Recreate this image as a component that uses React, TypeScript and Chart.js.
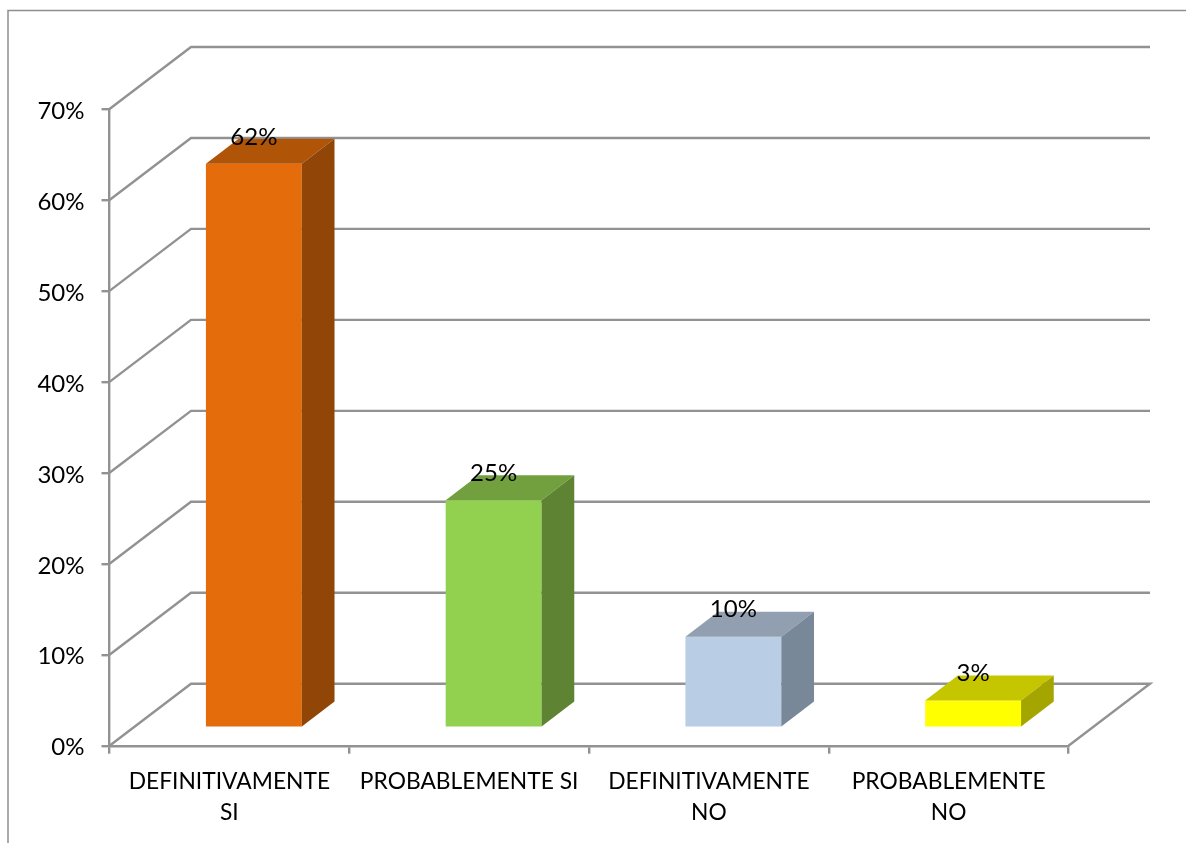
import React, { useEffect, useRef } from "react";
import { Chart, registerables } from "chart.js";

Chart.register(...registerables);

const categories = [
  ["DEFINITIVAMENTE", "SI"],
  ["PROBABLEMENTE SI"],
  ["DEFINITIVAMENTE", "NO"],
  ["PROBABLEMENTE", "NO"],
];
const values = [62, 25, 10, 3];
const frontColors = ["#E46C0A", "#92D050", "#B9CDE5", "#FFFF00"];
const topColors = ["#B05408", "#72A03F", "#929FB1", "#C6C600"];
const sideColors = ["#914506", "#5E8433", "#788898", "#A5A500"];

const FONT = "Lato, Carlito, sans-serif";
const TEXT = "#000000";
const LINE = "#929292";

const WALL_DX = 81.5;
const WALL_DY = -62;
const BAR_SHIFT_X = 24.5;
const BAR_SHIFT_Y = -18;
const BAR_DX = 32.7;
const BAR_DY = -25;

const threeD = {
  id: "threeD",
  beforeDraw(chart: any) {
    const { ctx, width, height } = chart;
    ctx.save();
    ctx.strokeStyle = "#8E8E8E";
    ctx.lineWidth = 1.5;
    ctx.beginPath();
    ctx.moveTo(8, height);
    ctx.lineTo(8, 10.5);
    ctx.lineTo(width, 10.5);
    ctx.stroke();
    ctx.restore();
  },
  beforeDatasetsDraw(chart: any) {
    const { ctx, chartArea, scales } = chart;
    const { left, right } = chartArea;
    ctx.save();
    ctx.strokeStyle = LINE;
    ctx.lineWidth = 2.4;
    ctx.lineJoin = "miter";
    for (const tick of scales.y.ticks) {
      const y = scales.y.getPixelForValue(tick.value);
      ctx.beginPath();
      ctx.moveTo(left, y);
      ctx.lineTo(left + WALL_DX, y + WALL_DY);
      ctx.lineTo(right + WALL_DX, y + WALL_DY);
      if (tick.value === 0) ctx.lineTo(right, y);
      ctx.stroke();
    }
    ctx.restore();
  },
  beforeDatasetDraw(chart: any) {
    chart.ctx.save();
    chart.ctx.translate(BAR_SHIFT_X, BAR_SHIFT_Y);
  },
  afterDatasetDraw(chart: any, args: any) {
    const { ctx } = chart;
    const bars = args.meta.data;
    bars.forEach((bar: any, i: number) => {
      const x0 = bar.x - bar.width / 2;
      const x1 = bar.x + bar.width / 2;
      const yTop = bar.y;
      const yBase = bar.base;
      ctx.fillStyle = topColors[i];
      ctx.beginPath();
      ctx.moveTo(x0, yTop);
      ctx.lineTo(x0 + BAR_DX, yTop + BAR_DY);
      ctx.lineTo(x1 + BAR_DX, yTop + BAR_DY);
      ctx.lineTo(x1, yTop);
      ctx.closePath();
      ctx.fill();
      ctx.fillStyle = sideColors[i];
      ctx.beginPath();
      ctx.moveTo(x1, yTop);
      ctx.lineTo(x1 + BAR_DX, yTop + BAR_DY);
      ctx.lineTo(x1 + BAR_DX, yBase + BAR_DY);
      ctx.lineTo(x1, yBase);
      ctx.closePath();
      ctx.fill();
      ctx.fillStyle = TEXT;
      ctx.font = `24px ${FONT}`;
      ctx.textAlign = "center";
      ctx.textBaseline = "middle";
      ctx.fillText(`${values[i]}%`, bar.x, yTop - 27);
    });
    ctx.restore();
  },
};

export default function App() {
  const ref = useRef<HTMLCanvasElement>(null);
  useEffect(() => {
    const chart = new Chart(ref.current!, {
      type: "bar",
      data: {
        labels: categories as any,
        datasets: [
          {
            data: values,
            backgroundColor: frontColors,
            categoryPercentage: 1,
            barPercentage: 0.4,
          },
        ],
      },
      options: {
        animation: false,
        responsive: false,
        layout: {
          autoPadding: false,
          padding: { left: 0, top: 109, right: 117.5, bottom: 0 },
        },
        plugins: { legend: { display: false }, tooltip: { enabled: false } },
        scales: {
          x: {
            afterFit: (s: any) => {
              s.height = 97.3;
            },
            grid: {
              drawOnChartArea: false,
              drawTicks: true,
              tickLength: 8,
              color: LINE,
              lineWidth: 2.4,
            },
            border: { display: true, color: LINE, width: 2.4 },
            ticks: {
              color: TEXT,
              padding: 12,
              maxRotation: 0,
              autoSkip: false,
              font: { family: FONT, size: 22.8, lineHeight: 1.36 },
            },
          },
          y: {
            min: 0,
            max: 70,
            afterFit: (s: any) => {
              s.width = 109.5;
            },
            grid: {
              drawOnChartArea: false,
              drawTicks: true,
              tickLength: 8,
              color: LINE,
              lineWidth: 2.4,
            },
            border: { display: true, color: LINE, width: 2.4 },
            ticks: {
              stepSize: 10,
              color: TEXT,
              padding: 17,
              labelOffset: 2,
              font: { family: FONT, size: 24 },
              callback: (v: any) => `${v}%`,
            },
          },
        },
      },
      plugins: [threeD],
    } as any);
    return () => chart.destroy();
  }, []);
  return (
    <canvas
      ref={ref}
      width={1186}
      height={843}
      style={{ position: "absolute", left: 0, top: 0, width: 1186, height: 843 }}
    />
  );
}
